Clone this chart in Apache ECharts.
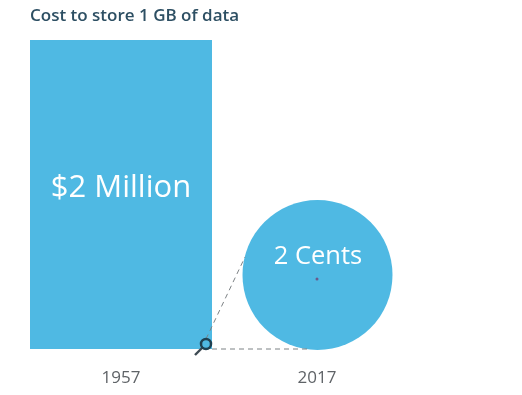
<!DOCTYPE html>
<html><head><meta charset="utf-8">
<style>html,body{margin:0;padding:0;background:#fff}#c{width:522px;height:395px}</style>
<script src="https://cdn.jsdelivr.net/npm/echarts@6/dist/echarts.min.js"></script>
</head><body><div id="c"></div>
<script>
const chartTitle = 'Cost to store 1 GB of data';
const categories = ['1957', '2017'];
const costDollars = [2000000, 0.02];
const costLabels = ['$2 Million', '2 Cents'];

const blue = '#4fb9e3';
const font = '"Open Sans", sans-serif';
const chart = echarts.init(document.getElementById('c'), null, {renderer: 'canvas'});
const grid = {left: 23, right: 107, top: 40, bottom: 46};
chart.setOption({
  animation: false,
  backgroundColor: '#ffffff',
  title: {text: chartTitle, left: 30, top: 8, padding: 0,
    textStyle: {fontFamily: font, fontSize: 17, fontWeight: 600, color: '#2d4f63'}},
  grid: grid,
  xAxis: {type: 'category', data: categories,
    axisLine: {show: false}, axisTick: {show: false},
    axisLabel: {fontFamily: font, fontSize: 17, color: '#5f6367', margin: 21}},
  yAxis: {type: 'value', min: 0, max: costDollars[0], show: false, splitLine: {show: false}},
  series: [
    {type: 'bar', barWidth: 182, silent: true,
      data: [costDollars[0], null],
      itemStyle: {color: blue},
      label: {show: true, position: 'inside', offset: [0, -6], formatter: () => costLabels[0],
        fontFamily: font, fontSize: 31, fontWeight: 500, color: '#fff'}},
    {type: 'scatter', silent: true, symbol: 'circle', symbolSize: 150, symbolOffset: [0.5, -74],
      data: [[categories[1], costDollars[1]]],
      itemStyle: {color: blue, opacity: 1},
      label: {show: true, position: 'inside', offset: [0.5, -18], formatter: () => costLabels[1],
        fontFamily: font, fontSize: 25.5, fontWeight: 500, color: '#fff'}},
    {type: 'scatter', silent: true, symbol: 'circle', symbolSize: 3, symbolOffset: [0, -70],
      z: 5, data: [[categories[1], costDollars[1]]],
      itemStyle: {color: '#6a5a8c', opacity: 1}}
  ]
});

/* Magnifier callout anchored on the bar's lower right corner, read through the axes */
const base = chart.convertToPixel({seriesIndex: 0}, [categories[0], 0]);
const cx = base[0] + 91, cy = base[1];
const dash = {stroke: '#7d8285', lineWidth: 1, lineDash: [5, 4]};
chart.setOption({graphic: [
  {type: 'line', z: 10, shape: {x1: cx - 6, y1: cy - 10, x2: cx + 33, y2: cy - 92}, style: dash},
  {type: 'line', z: 10, shape: {x1: cx, y1: cy, x2: cx + 95, y2: cy}, style: dash},
  {type: 'line', z: 11, shape: {x1: cx - 17, y1: cy + 6, x2: cx - 9, y2: cy - 2},
    style: {stroke: '#3d4a52', lineWidth: 2.4}},
  {type: 'circle', z: 11, shape: {cx: cx - 6, cy: cy - 5, r: 5},
    style: {fill: 'rgba(255,255,255,0)', stroke: '#1f4152', lineWidth: 2.5}}
]});
</script></body></html>
